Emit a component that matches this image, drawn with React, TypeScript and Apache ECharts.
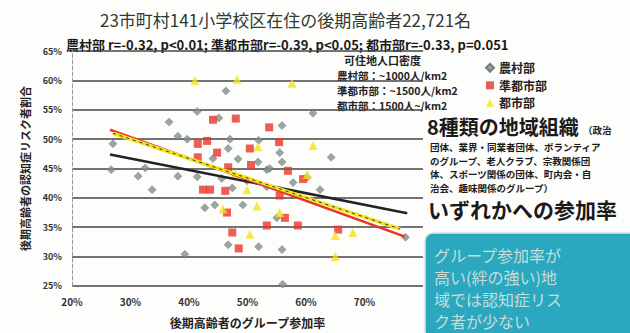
import React, { useEffect, useRef } from "react";
import * as echarts from "echarts";

const ruralX = [46.3, 41.4, 61.2, 45.1, 55.9, 36.6, 38.1, 39.7, 47.0, 51.9, 55.5, 46.7, 44.1, 51.8, 55.9, 53.3, 27.0, 26.7, 32.5, 31.3, 38.1, 41.4, 33.7, 45.6, 49.9, 47.4, 57.8, 60.2, 62.4, 53.3, 49.2, 44.4, 42.7, 55.0, 46.7, 51.9, 55.9, 39.3, 64.3, 77.0, 56.0, 48.4, 53.8];
const ruralY = [58.2, 54.7, 54.4, 53.6, 52.3, 52.9, 50.5, 50.0, 50.0, 49.8, 47.7, 48.4, 46.7, 46.1, 46.1, 44.8, 49.2, 44.8, 45.1, 43.7, 43.7, 43.6, 41.4, 43.3, 42.9, 41.7, 42.6, 43.5, 41.4, 41.9, 38.8, 38.8, 38.3, 36.6, 32.0, 31.7, 31.2, 30.4, 46.9, 33.3, 25.3, 46.6, 45.0];

const semiX = [44.1, 48.0, 53.7, 41.5, 43.1, 50.4, 55.4, 44.8, 41.5, 46.7, 50.6, 56.9, 43.6, 42.4, 46.2, 55.5, 59.5, 46.5, 56.4, 58.6, 53.3, 47.4, 48.5, 65.5];
const semiY = [53.3, 53.5, 52.0, 49.2, 49.7, 48.4, 49.5, 47.7, 46.9, 45.2, 45.6, 44.6, 41.4, 41.4, 41.2, 40.4, 43.2, 37.5, 36.6, 35.3, 35.3, 34.1, 31.4, 34.6];

const urbanX = [41.0, 48.2, 57.6, 51.8, 61.2, 47.9, 49.9, 51.6, 45.8, 55.5, 50.4, 65.0, 68.0, 65.0, 60.2];
const urbanY = [60.0, 60.2, 59.5, 48.7, 48.9, 44.1, 41.4, 38.6, 38.1, 37.5, 33.8, 33.6, 34.1, 30.0, 44.0];

const trendRuralX = [26.5, 77.3];
const trendRuralY = [47.4, 37.4];
const trendSemiX = [26.5, 76.9];
const trendSemiY = [51.6, 33.4];
const trendUrbanX = [27.0, 76.1];
const trendUrbanY = [51.0, 34.7];

const categories = ["農村部", "準都市部", "都市部"];
const xTicks = [20, 30, 40, 50, 60, 70];

const FONT = "'Noto Sans CJK JP', 'Noto Sans', sans-serif";

const zip = (xs: number[], ys: number[]) => xs.map((x, i) => [x, ys[i]]);

export default function App() {
  const ref = useRef<HTMLDivElement>(null);
  useEffect(() => {
    if (!ref.current) return;
    const chart = echarts.init(ref.current, null, { renderer: "svg" });
    const smallLines = [
      "団体、業界・同業者団体、ボランティア",
      "のグループ、老人クラブ、宗教関係団",
      "体、スポーツ関係の団体、町内会・自",
      "治会、趣味関係のグループ）",
    ];
    const boxLines = ["グループ参加率が", "高い(絆の強い)地", "域では認知症リス", "ク者が少ない"];
    const txt = (x: number, y: number, text: string, size: number, bold: boolean, fill: string, lh?: number) => ({
      type: "text",
      x,
      y,
      style: {
        text,
        font: `${bold ? "bold " : ""}${size}px ${FONT}`,
        lineHeight: lh ?? Math.round(size * 1.05),
        fill,
        verticalAlign: "middle",
      },
    });
    const option: any = {
      animation: false,
      backgroundColor: "#fdfdfb",
      textStyle: { fontFamily: FONT },
      grid: { left: 72, right: 207, top: 51, bottom: 37, containLabel: false },
      xAxis: {
        type: "value",
        min: 20,
        max: 80,
        interval: 10,
        axisLine: { show: false },
        axisTick: { show: false },
        splitLine: { show: false },
        axisLabel: {
          formatter: (v: number) => (xTicks.indexOf(v) >= 0 ? v + "%" : ""),
          fontSize: 10,
          fontWeight: "bold",
          color: "#333",
          margin: 11,
        },
        name: "後期高齢者のグループ参加率",
        nameLocation: "middle",
        nameGap: 30,
        nameTextStyle: { fontSize: 12, fontWeight: "bold", color: "#222" },
      },
      yAxis: {
        type: "value",
        min: 25,
        max: 65,
        interval: 5,
        axisLine: { show: true, lineStyle: { color: "#999", type: "dashed", width: 1 } },
        axisTick: { show: false },
        splitLine: { lineStyle: { color: "#444", width: 1.5 } },
        axisLabel: {
          formatter: (v: number) => v + "%",
          fontSize: 9,
          fontWeight: "bold",
          color: "#333",
          margin: 10,
        },
        name: "後期高齢者の認知症リスク者割合",
        nameLocation: "middle",
        nameRotate: 90,
        nameGap: 42,
        nameTextStyle: { fontSize: 11, fontWeight: "bold", color: "#222" },
      },
      legend: {
        data: categories,
        orient: "vertical",
        left: 480,
        top: 54,
        itemGap: 0,
        itemWidth: 8,
        itemHeight: 8,
        textStyle: { fontSize: 12, lineHeight: 17.5, fontWeight: "bold", color: "#222", fontFamily: FONT },
      },
      series: [
        {
          name: categories[0],
          type: "scatter",
          symbol: "diamond",
          symbolSize: 8,
          itemStyle: { color: "#7f918d", borderColor: "#5d6b68", borderWidth: 0.5 },
          data: zip(ruralX, ruralY),
          z: 3,
        },
        {
          name: categories[1],
          type: "scatter",
          symbol: "rect",
          symbolSize: 8,
          itemStyle: { color: "#e8352b" },
          data: zip(semiX, semiY),
          z: 3,
        },
        {
          name: categories[2],
          type: "scatter",
          symbol: "triangle",
          symbolSize: 9,
          itemStyle: { color: "#f2e31c" },
          data: zip(urbanX, urbanY),
          z: 3,
        },
        {
          name: "trendRural",
          type: "line",
          showSymbol: false,
          symbol: "none",
          lineStyle: { color: "#222", width: 2.5 },
          data: zip(trendRuralX, trendRuralY),
          z: 4,
        },
        {
          name: "trendSemi",
          type: "line",
          showSymbol: false,
          symbol: "none",
          lineStyle: { color: "#e8352b", width: 2.5 },
          data: zip(trendSemiX, trendSemiY),
          z: 4,
        },
        {
          name: "trendUrban",
          type: "line",
          showSymbol: false,
          symbol: "none",
          lineStyle: { color: "#f2e31c", width: 3.5 },
          data: zip(trendUrbanX, trendUrbanY),
          z: 4,
        },
        {
          name: "trendUrbanDash",
          type: "line",
          showSymbol: false,
          symbol: "none",
          lineStyle: { color: "#333", width: 1, type: [3, 4] },
          data: zip(trendUrbanX, trendUrbanY),
          z: 5,
        },
      ],
      graphic: [
        txt(100, 19, "23市町村141小学校区在住の後期高齢者22,721名", 17, false, "#2e3a34"),
        txt(66, 44, "農村部 r=-0.32, p<0.01; 準都市部r=-0.39, p<0.05; 都市部r=-0.33, p=0.051", 13, true, "#1a1a1a"),
        txt(344, 60, "可住地人口密度", 11, true, "#222"),
        txt(337, 75, "農村部：~1000人/km2", 10.5, true, "#222"),
        txt(337, 90, "準都市部：~1500人/km2", 10.5, true, "#222"),
        txt(337, 105, "都市部：1500人~/km2", 10.5, true, "#222"),
        txt(427, 126, "8種類の地域組織", 20, true, "#1a1a1a"),
        txt(583, 130, "（政治", 9.5, true, "#1a1a1a"),
        ...smallLines.map((t, i) => txt(430, 147 + i * 13.5, t, 9.5, true, "#1a1a1a", 10)),
        txt(428, 209, "いずれかへの参加率", 21, true, "#1a1a1a"),
        {
          type: "rect",
          shape: { x: 425, y: 233, width: 212, height: 106, r: 8 },
          style: { fill: "#2aa8bf", stroke: "#d8e4e2", lineWidth: 1.5 },
        },
        ...boxLines.map((t, i) => txt(434, 255 + i * 22, t, 16, false, "#c8dcd8", 17)),
      ],
    };
    chart.setOption(option);
    return () => chart.dispose();
  }, []);
  return <div ref={ref} style={{ width: 630, height: 333, position: "absolute", left: 0, top: 0 }} />;
}
